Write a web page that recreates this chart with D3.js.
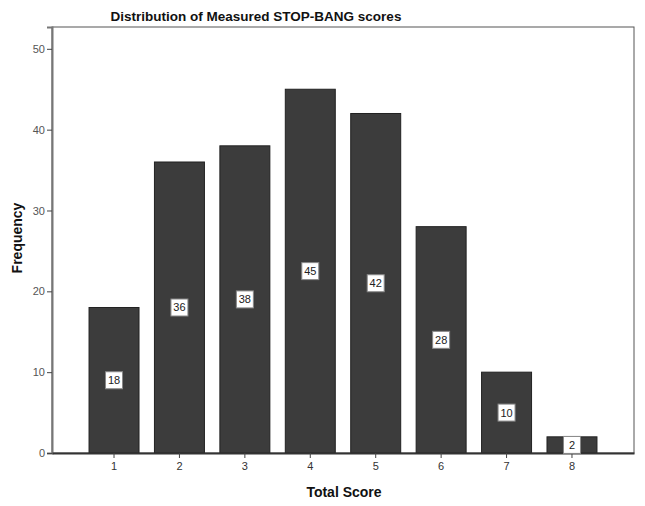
<!DOCTYPE html>
<html><head><meta charset="utf-8">
<script src="https://cdn.jsdelivr.net/npm/d3@7"></script>
<style>body{margin:0;background:#fff;} text{font-family:Arial,"Liberation Sans",sans-serif;}</style>
</head><body>
<svg id="chart" width="645" height="506"></svg>
<script>
const categories = ["1","2","3","4","5","6","7","8"];
const frequencies = [18,36,38,45,42,28,10,2];
const yTicks = [0,10,20,30,40,50];
const title = "Distribution of Measured STOP-BANG scores";
const xTitle = "Total Score";
const yTitle = "Frequency";

const svg = d3.select("#chart");
const L = 52, R = 634, T = 27, B = 453;
const x = d3.scaleBand().domain(categories).range([L, R]).paddingInner(0.236).paddingOuter(0.566);
const y = d3.scaleLinear().domain([0, 52.7]).range([B, T]);

// frame
svg.append("rect").attr("x", L).attr("y", T).attr("width", R - L).attr("height", B - T)
  .attr("fill", "#fff").attr("stroke", "#555").attr("stroke-width", 1);

// bars
svg.selectAll("rect.bar").data(frequencies).join("rect").attr("class", "bar")
  .attr("x", (d, i) => x(categories[i]))
  .attr("y", d => y(d))
  .attr("width", x.bandwidth())
  .attr("height", d => B - y(d))
  .attr("fill", "#3c3c3c").attr("stroke", "#222").attr("stroke-width", 1);

// y axis
const yAxis = svg.append("g").attr("transform", `translate(${L},0)`)
  .call(d3.axisLeft(y).tickValues(yTicks).tickSize(5).tickPadding(2));
yAxis.select(".domain").attr("stroke", "#777").attr("stroke-width", 2);
yAxis.selectAll(".tick line").attr("stroke", "#444");
yAxis.selectAll("text").attr("font-size", 11).attr("fill", "#555").style("font-family", "Arial,'Liberation Sans',sans-serif");

// x axis
const xAxis = svg.append("g").attr("transform", `translate(0,${B})`)
  .call(d3.axisBottom(x).tickSize(5).tickPadding(4).tickSizeOuter(0));
xAxis.select(".domain").attr("stroke", "#333").attr("stroke-width", 2);
xAxis.selectAll(".tick line").attr("stroke", "#444");
xAxis.selectAll("text").attr("font-size", 11).attr("fill", "#333").style("font-family", "Arial,'Liberation Sans',sans-serif");

// value labels
const lab = svg.selectAll("g.lab").data(frequencies).join("g").attr("class", "lab")
  .attr("transform", (d, i) => `translate(${x(categories[i]) + x.bandwidth() / 2},${y(d / 2)})`);
lab.append("rect").attr("x", -8.5).attr("y", -8.5).attr("width", 17).attr("height", 17)
  .attr("fill", "#fff").attr("stroke", "#888").attr("stroke-width", 1);
lab.append("text").attr("text-anchor", "middle").attr("dy", "0.36em")
  .attr("font-size", 11).attr("fill", "#222").text(d => d);

// titles
svg.append("text").attr("x", 256).attr("y", 21).attr("text-anchor", "middle")
  .attr("font-size", 13.5).attr("font-weight", "bold").attr("fill", "#111").text(title);
svg.append("text").attr("x", 344).attr("y", 497).attr("text-anchor", "middle")
  .attr("font-size", 14).attr("font-weight", "bold").attr("fill", "#111").text(xTitle);
svg.append("text").attr("transform", "translate(22,238) rotate(-90)").attr("text-anchor", "middle")
  .attr("font-size", 14).attr("font-weight", "bold").attr("fill", "#111").text(yTitle);
</script>
</body></html>
